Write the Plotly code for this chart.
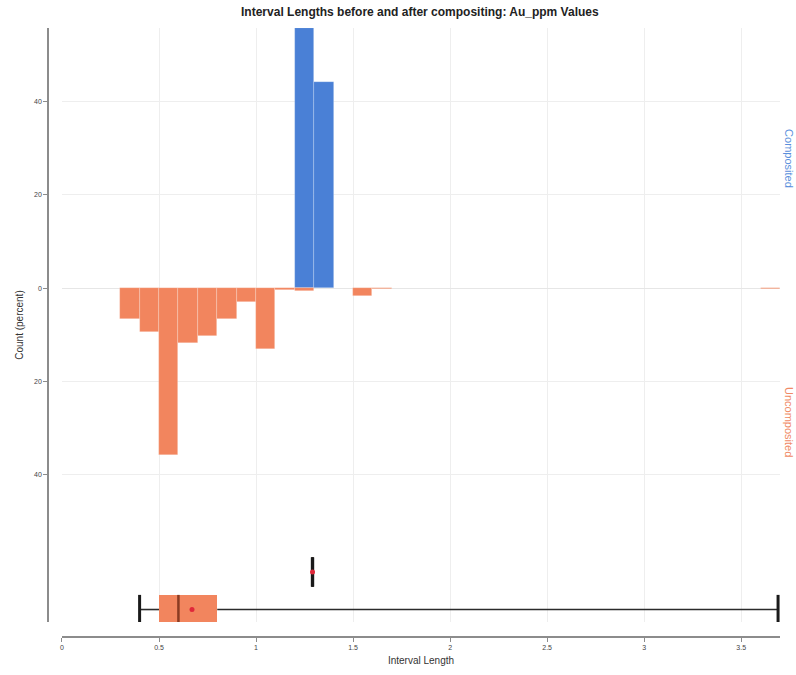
import plotly.graph_objects as go

# ---- histogram data (percent of intervals per 0.1 length bin) ----
bin_width = 0.1
composited_bins = [1.2, 1.3]
composited_pct = [55.8, 44.2]

uncomposited_bins = [0.3, 0.4, 0.5, 0.6, 0.7, 0.8, 0.9, 1.0, 1.1, 1.2, 1.5, 1.6, 3.6]
uncomposited_pct = [6.6, 9.3, 35.7, 11.7, 10.2, 6.7, 2.9, 13.0, 0.3, 0.5, 1.7, 0.2, 0.2]

# ---- box plot summary statistics ----
box_groups = ["Uncomposited", "Composited"]
box_min = [0.40, 1.290]
box_q1 = [0.50, 1.290]
box_median = [0.60, 1.291]
box_q3 = [0.80, 1.292]
box_max = [3.69, 1.292]
box_mean = [0.67, 1.291]

# ---- tick labels ----
y_tickvals = [-40, -20, 0, 20, 40]
y_ticktext = ["40", "20", "0", "20", "40"]
x_tickvals = [0, 0.5, 1, 1.5, 2, 2.5, 3, 3.5]
x_ticktext = ["0", "0.5", "1", "1.5", "2", "2.5", "3", "3.5"]

BLUE = "#4a80d6"
ORANGE = "#f2855e"
FONT = "Liberation Sans, Arial, sans-serif"

fig = go.Figure()

# Composited histogram: upward bars
fig.add_trace(go.Bar(
    x=[b + bin_width / 2 for b in composited_bins],
    y=composited_pct,
    width=bin_width,
    marker=dict(color=BLUE, line=dict(color="rgba(255,255,255,0.35)", width=0.6)),
    name="Composited", showlegend=False,
))

# Uncomposited histogram: mirrored downward
fig.add_trace(go.Bar(
    x=[b + bin_width / 2 for b in uncomposited_bins],
    y=[-v for v in uncomposited_pct],
    width=bin_width,
    marker=dict(color=ORANGE, line=dict(color="rgba(255,255,255,0.35)", width=0.6)),
    name="Uncomposited", showlegend=False,
))

# Box plots on an overlaid axis, one row per group (row index = position)
half = 0.39
for i, g in enumerate(box_groups):
    # box body (q1 -> q3)
    fig.add_trace(go.Bar(
        y=[i], x=[box_q3[i] - box_q1[i]], base=[box_q1[i]],
        orientation="h", width=2 * half,
        marker=dict(color=ORANGE, line=dict(width=0)),
        yaxis="y2", showlegend=False, name=g, hoverinfo="skip",
    ))
    # whiskers
    for lo, hi in ((box_min[i], box_q1[i]), (box_q3[i], box_max[i])):
        fig.add_trace(go.Scatter(
            x=[lo, hi], y=[i, i], mode="lines",
            line=dict(color="#2b2b2b", width=1.6),
            yaxis="y2", showlegend=False, hoverinfo="skip",
        ))
    # whisker caps
    for v in (box_min[i], box_max[i]):
        fig.add_trace(go.Scatter(
            x=[v, v], y=[i - half, i + half], mode="lines",
            line=dict(color="#1a1a1a", width=3),
            yaxis="y2", showlegend=False, hoverinfo="skip",
        ))
    # median
    fig.add_trace(go.Scatter(
        x=[box_median[i], box_median[i]], y=[i - half, i + half], mode="lines",
        line=dict(color="#8a3b22" if i == 0 else "#1a1a1a", width=2.5),
        yaxis="y2", showlegend=False, hoverinfo="skip",
    ))
    # mean
    fig.add_trace(go.Scatter(
        x=[box_mean[i]], y=[i], mode="markers",
        marker=dict(color="#e0283a", size=5),
        yaxis="y2", showlegend=False, hoverinfo="skip",
    ))

y_top = max(composited_pct)

fig.update_layout(
    width=796, height=675,
    margin=dict(l=48, r=16, t=28, b=38),
    plot_bgcolor="white", paper_bgcolor="white",
    font=dict(family=FONT, color="#333"),
    barmode="overlay", bargap=0,
    title=dict(
        text="<b>Interval Lengths before and after compositing: Au_ppm Values</b>",
        x=0.508, xref="paper", xanchor="center",
        y=1 - 12 / 675, yref="container", yanchor="middle",
        font=dict(size=12, color="#222"),
    ),
    xaxis=dict(
        domain=[0.0191, 1], anchor="free", position=0,
        range=[0, 3.70], tickvals=x_tickvals, ticktext=x_ticktext,
        showline=True, linecolor="#8c8c8c", linewidth=1.5,
        ticks="outside", ticklen=4, tickcolor="#8c8c8c",
        tickfont=dict(size=7, color="#444"),
        showgrid=True, gridcolor="#eeeeee", gridwidth=1, zeroline=False,
        title=dict(text="Interval Length", font=dict(size=10, color="#333"), standoff=6),
    ),
    yaxis=dict(
        domain=[0.0246, 1], anchor="free", position=0,
        range=[-71.6, y_top], tickvals=y_tickvals, ticktext=y_ticktext,
        showline=True, linecolor="#8c8c8c", linewidth=1.5,
        ticks="outside", ticklen=4, tickcolor="#8c8c8c",
        tickfont=dict(size=7, color="#444"),
        showgrid=True, gridcolor="#eeeeee", gridwidth=1,
        zeroline=True, zerolinecolor="#e6e6e6", zerolinewidth=1,
        title=dict(text="Count (percent)", font=dict(size=10, color="#333"), standoff=8),
    ),
    yaxis2=dict(
        overlaying="y", anchor="x", type="linear",
        range=[-0.333, 15.5], visible=False,
    ),
    annotations=[
        dict(text="Composited", xref="paper", yref="y", x=1.0123, y=y_top / 2,
             textangle=90, showarrow=False, xanchor="center", yanchor="middle",
             font=dict(size=11, color="#5a8fdc")),
        dict(text="Uncomposited", xref="paper", yref="y", x=1.0123, y=-28.7,
             textangle=90, showarrow=False, xanchor="center", yanchor="middle",
             font=dict(size=11, color="#f08a66")),
    ],
)

fig.write_html("out.html")
